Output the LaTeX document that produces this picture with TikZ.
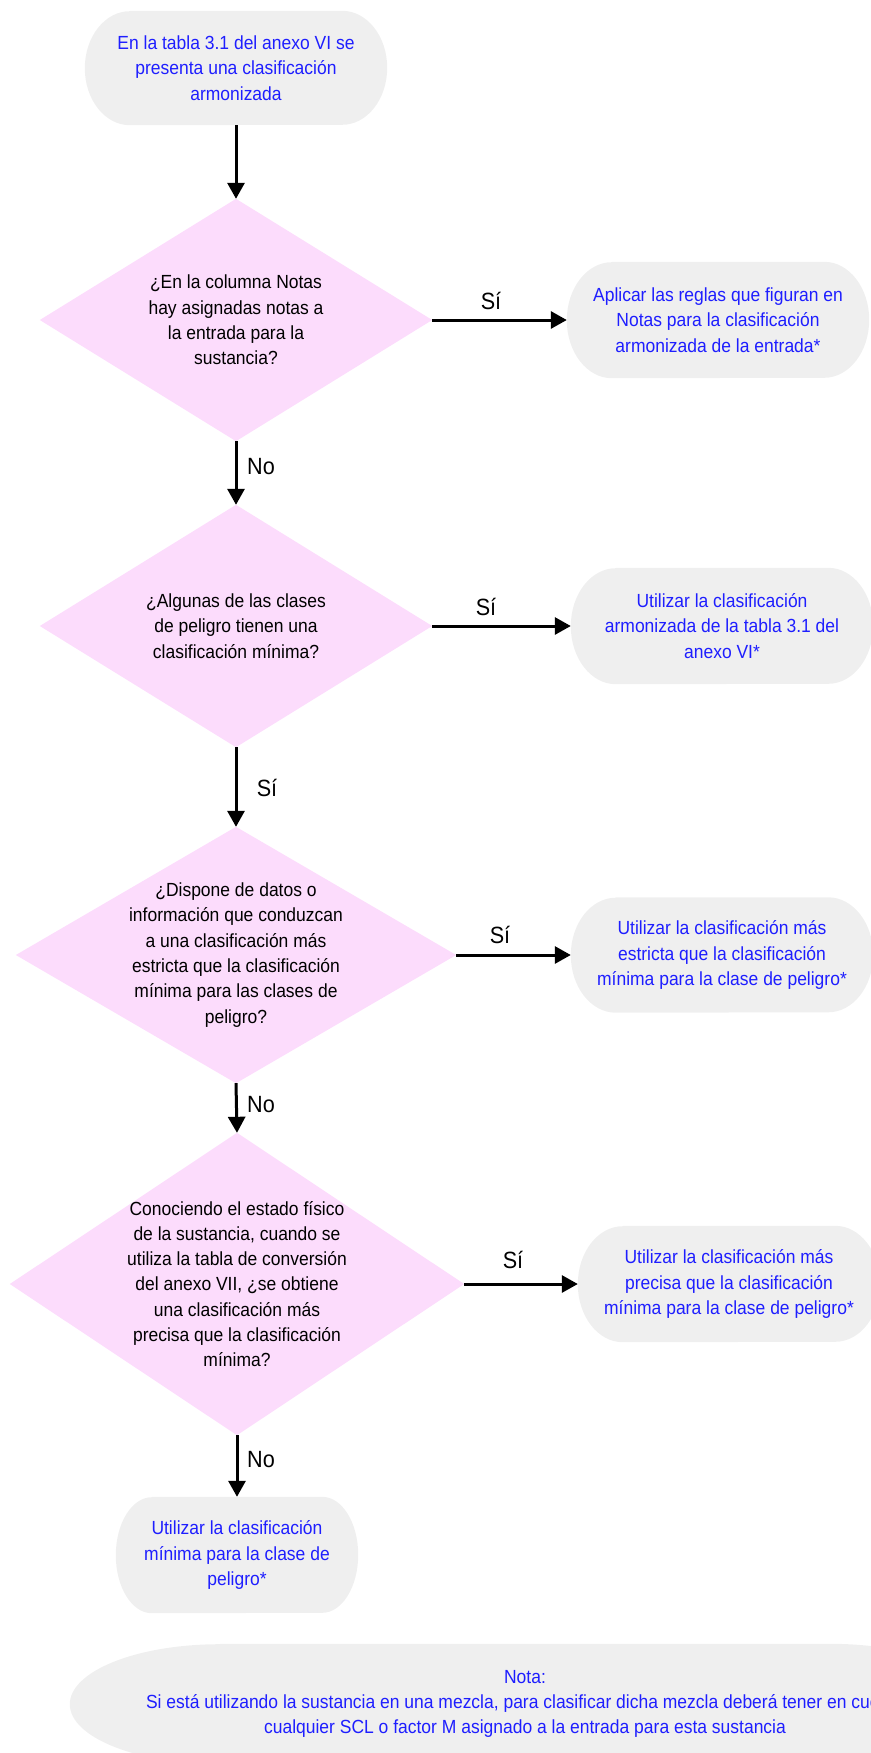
\documentclass[tikz,border=0pt]{standalone}
\usepackage{fontspec}
\setmainfont{Liberation Sans}[FakeStretch=0.92]
\usetikzlibrary{arrows.meta,backgrounds}
\definecolor{txtblue}{RGB}{30,30,255}
\definecolor{boxgray}{RGB}{239,239,239}
\definecolor{diapink}{RGB}{252,220,252}
\newcommand\pillbg[3]{%
  \fill[boxgray] ([xshift=#2]#1.north west) -- ([xshift=-#2]#1.north east)
    arc[start angle=90,end angle=-90,x radius=#2,y radius=#3]
    -- ([xshift=#2]#1.south west)
    arc[start angle=270,end angle=90,x radius=#2,y radius=#3] -- cycle;}
\newcommand\diabg[1]{%
  \fill[diapink] (#1.north) -- (#1.east) -- (#1.south) -- (#1.west) -- cycle;}
\tikzset{
  pill/.style={rectangle, inner sep=0pt, text=txtblue, align=center,
    font=\fontsize{19}{25.3}\selectfont},
  dnode/.style={rectangle, inner sep=0pt, text=black, align=center,
    font=\fontsize{19}{25.3}\selectfont},
  lbl/.style={inner sep=0pt, text=black, font=\fontsize{23.5}{26}\selectfont},
  arr/.style={line width=3pt, draw=black, -{Triangle[length=16pt,width=17pt]}}
}
\begin{document}
\begin{tikzpicture}[x=1pt,y=-1pt]
\useasboundingbox (0,0) rectangle (870,1753);
% nodes
\node[pill, minimum width=302, minimum height=114] (start) at (236,68)
  {En la tabla 3.1 del anexo VI se\\presenta una clasificación\\armonizada};
\node[dnode, minimum width=392, minimum height=242] (d1) at (236,320)
  {¿En la columna Notas\\hay asignadas notas a\\la entrada para la\\sustancia?};
\node[pill, minimum width=302, minimum height=116] (r1) at (718,320)
  {Aplicar las reglas que figuran en\\Notas para la clasificación\\armonizada de la entrada*};
\node[dnode, minimum width=392, minimum height=242] (d2) at (236,626)
  {¿Algunas de las clases\\de peligro tienen una\\clasificación mínima?};
\node[pill, minimum width=302, minimum height=116] (r2) at (722,626)
  {Utilizar la clasificación\\armonizada de la tabla 3.1 del\\anexo VI*};
\node[dnode, minimum width=440, minimum height=256] (d3) at (236,955)
  {¿Dispone de datos o\\información que conduzcan\\a una clasificación más\\estricta que la clasificación\\mínima para las clases de\\peligro?};
\node[pill, minimum width=302, minimum height=115] (r3) at (722,955)
  {Utilizar la clasificación más\\estricta que la clasificación\\mínima para la clase de peligro*};
\node[dnode, minimum width=454, minimum height=302] (d4) at (237,1284)
  {Conociendo el estado físico\\de la sustancia, cuando se\\utiliza la tabla de conversión\\del anexo VII, ¿se obtiene\\una clasificación más\\precisa que la clasificación\\mínima?};
\node[pill, minimum width=302, minimum height=116] (r4) at (729,1284)
  {Utilizar la clasificación más\\precisa que la clasificación\\mínima para la clase de peligro*};
\node[pill, minimum width=242, minimum height=116] (b) at (237,1555)
  {Utilizar la clasificación\\mínima para la clase de\\peligro*};
\node[pill, minimum width=910, minimum height=120] (nota) at (525,1704)
  {Nota:\\Si está utilizando la sustancia en una mezcla, para clasificar dicha mezcla deberá tener en cuenta\\cualquier SCL o factor M asignado a la entrada para esta sustancia};
% backgrounds
\begin{scope}[on background layer]
  \pillbg{start}{45pt}{57pt}
  \pillbg{r1}{45pt}{58pt}
  \pillbg{r2}{45pt}{58pt}
  \pillbg{r3}{45pt}{57.5pt}
  \pillbg{r4}{45pt}{58pt}
  \pillbg{b}{36pt}{58pt}
  \pillbg{nota}{150pt}{60pt}
  \diabg{d1}
  \diabg{d2}
  \diabg{d3}
  \diabg{d4}
\end{scope}
% connectors
\draw[arr] (start.south) -- (d1.north);
\draw[arr] (d1.east) -- (r1.west);
\draw[arr] (d1.south) -- (d2.north);
\draw[arr] (d2.east) -- (r2.west);
\draw[arr] (d2.south) -- (d3.north);
\draw[arr] (d3.east) -- (r3.west);
\draw[arr] (d3.south) -- (d4.north);
\draw[arr] (d4.east) -- (r4.west);
\draw[arr] (d4.south) -- (b.north);
% labels
\node[lbl] (l1) at (491,301) {Sí};
\node[lbl] (l2) at (261,467) {No};
\node[lbl] (l3) at (486,607) {Sí};
\node[lbl] (l4) at (267,788) {Sí};
\node[lbl] (l5) at (500,935) {Sí};
\node[lbl] (l6) at (261,1105) {No};
\node[lbl] (l7) at (513,1260) {Sí};
\node[lbl] (l8) at (261,1460) {No};
\end{tikzpicture}
\end{document}
